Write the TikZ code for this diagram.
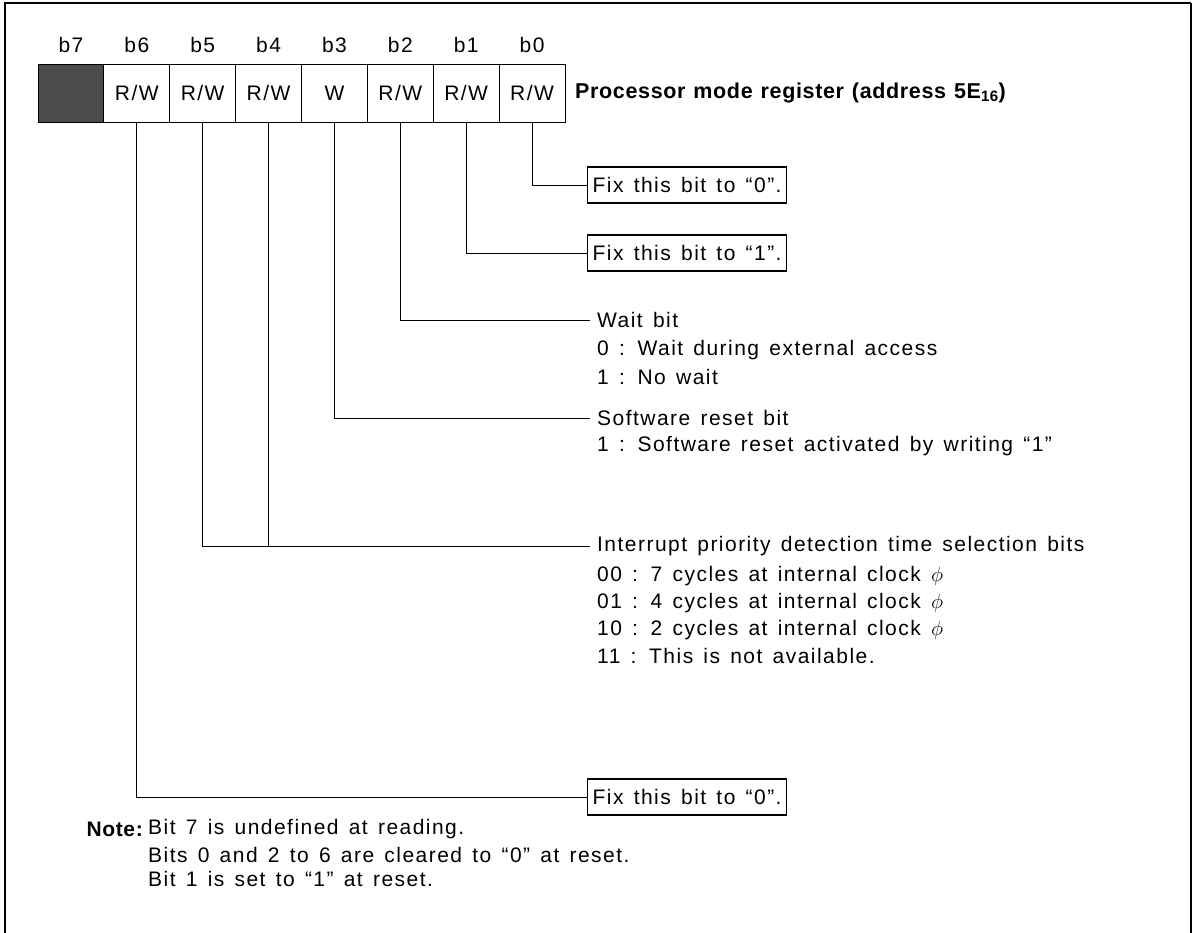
\documentclass[tikz,border=0pt]{standalone}
\usepackage{fontspec}
\setmainfont[LetterSpace=7,WordSpace=1.4,Ligatures=TeX]{Liberation Sans}
\newfontfamily\titlefont[LetterSpace=3,WordSpace=1.2,Ligatures=TeX]{Liberation Sans}
\begin{document}
\begin{tikzpicture}[x=1pt,y=-1pt,
  every node/.style={inner sep=0pt, font=\fontsize{21}{24}\selectfont},
  cell/.style={draw, line width=1pt, minimum width=65.875pt, minimum height=58pt, anchor=center},
  bitlab/.style={anchor=base},
  fixbox/.style={draw, line width=1.3pt, minimum height=36pt, anchor=west, inner xsep=5pt},
  desc/.style={anchor=west},
  conn/.style={line width=0.9pt},
]
\useasboundingbox (0,0) rectangle (1194,932);
\draw[line width=1.2pt] (5,940) -- (5,3) -- (1191,3);
\draw[line width=2pt] (1191,3) -- (1191,940);

% register cells
\node[cell, fill=black!70] (c7) at (70.94,93) {};
\node[cell] (c6) at (136.81,93) {R/W};
\node[cell] (c5) at (202.69,93) {R/W};
\node[cell] (c4) at (268.56,93) {R/W};
\node[cell] (c3) at (334.44,93) {W};
\node[cell] (c2) at (400.31,93) {R/W};
\node[cell] (c1) at (466.19,93) {R/W};
\node[cell] (c0) at (532.06,93) {R/W};

% bit labels
\node[bitlab] (l7) at (70.94,52) {b7};
\node[bitlab] (l6) at (136.81,52) {b6};
\node[bitlab] (l5) at (202.69,52) {b5};
\node[bitlab] (l4) at (268.56,52) {b4};
\node[bitlab] (l3) at (334.44,52) {b3};
\node[bitlab] (l2) at (400.31,52) {b2};
\node[bitlab] (l1) at (466.19,52) {b1};
\node[bitlab] (l0) at (532.06,52) {b0};

% title
\node[anchor=west, font=\titlefont\bfseries\fontsize{21.5}{24}\selectfont] (title) at (575,93) {Processor mode register (address 5E\textsubscript{16})};

% bit 0
\node[fixbox] (f0) at (587,185) {Fix this bit to ``0''.};
\draw[conn] (c0.south) |- (f0.west);

% bit 1
\node[fixbox] (f1) at (587,253) {Fix this bit to ``1''.};
\draw[conn] (c1.south) |- (f1.west);

% bit 2
\node[desc] (w0) at (597,320) {Wait bit};
\node[desc] (w1) at (597,350) {0 : Wait during external access};
\node[desc] (w2) at (597,377) {1 : No wait};
\draw[conn] (c2.south) |- ([xshift=-7pt]w0.west);

% bit 3
\node[desc] (s0) at (597,418) {Software reset bit};
\node[desc] (s1) at (597,446) {1 : Software reset activated by writing ``1''};
\draw[conn] (c3.south) |- ([xshift=-7pt]s0.west);

% bits 4,5
\node[desc] (i0) at (597,546) {Interrupt priority detection time selection bits};
\node[desc] (i1) at (597,576) {00 : 7 cycles at internal clock $\phi$};
\node[desc] (i2) at (597,603) {01 : 4 cycles at internal clock $\phi$};
\node[desc] (i3) at (597,630) {10 : 2 cycles at internal clock $\phi$};
\node[desc] (i4) at (597,656) {11 : This is not available.};
\draw[conn] (c5.south) |- ([xshift=-7pt]i0.west);
\draw[conn] (c4.south) -- (c4.south |- i0.west);

% bit 6
\node[fixbox] (f6) at (587,797) {Fix this bit to ``0''.};
\draw[conn] (c6.south) |- (f6.west);

% note
\node[anchor=west] (n1) at (148,829) {Bit 7 is undefined at reading.};
\node[anchor=east, font=\titlefont\bfseries\fontsize{21}{24}\selectfont] (note) at ([xshift=-5pt]n1.west) {Note:};
\node[anchor=west] (n2) at (148,855) {Bits 0 and 2 to 6 are cleared to ``0'' at reset.};
\node[anchor=west] (n3) at (148,879) {Bit 1 is set to ``1'' at reset.};
\end{tikzpicture}
\end{document}
